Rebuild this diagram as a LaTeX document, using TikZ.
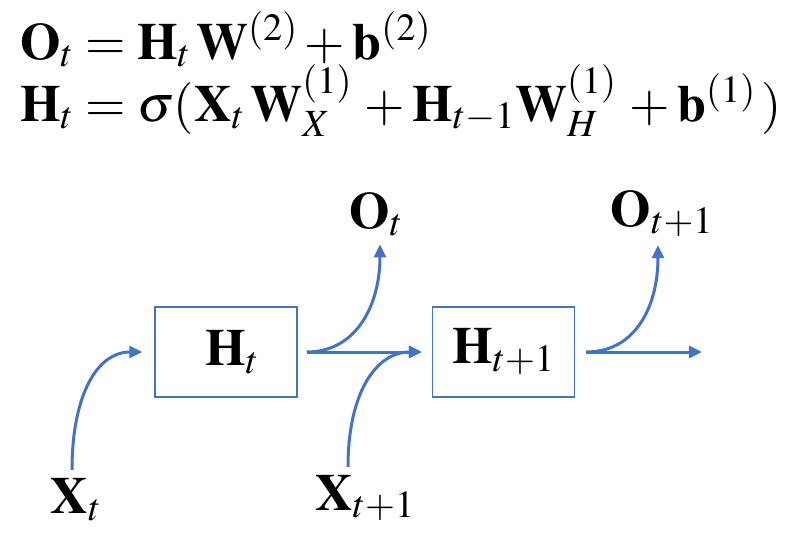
\documentclass[tikz,border=0pt]{standalone}
\usepackage{mathptmx}
\usetikzlibrary{arrows.meta,calc}
\definecolor{flowblue}{RGB}{68,114,196}

\begin{document}
\begin{tikzpicture}[
  x=1pt, y=-1pt,
  font=\fontsize{52}{60}\selectfont,
  eq/.style={anchor=base west, inner sep=0pt},
  cell/.style={draw=flowblue, line width=1.5pt, minimum width=142pt,
               minimum height=90pt, inner sep=0pt},
  lbl/.style={anchor=base, inner sep=8pt},
  flow/.style={draw=flowblue, line width=3pt,
               -{Triangle[length=13pt,width=12pt]}},
]
\useasboundingbox (0,0) rectangle (789,538);
% equations
\node[eq] (eqo) at (20,59)
 {$\mathbf{O}_t = \mathbf{H}_t\,\mathbf{W}^{(2)} + \mathbf{b}^{(2)}$};
\node[eq] (eqh) at (20,121)
 {$\mathbf{H}_t = \sigma(\mathbf{X}_t\,\mathbf{W}_X^{(1)}\, + \mathbf{H}_{t-1}\mathbf{W}_H^{(1)}\, + \mathbf{b}^{(1)}\,)$};
% cells and labels
\node[cell] (ht) at (226,352) {\hspace*{12pt}$\mathbf{H}_t$};
\node[cell] (htn) at (503.5,352) {$\mathbf{H}_{t+1}$};
\node[lbl] (ot) at (376,228) {$\mathbf{O}_t$};
\node[lbl] (otn) at (662,226) {$\mathbf{O}_{t+1}$};
\node[lbl] (xt) at (76,513) {$\mathbf{X}_t$};
\node[lbl] (xtn) at (365,510) {$\mathbf{X}_{t+1}$};
\coordinate (hout) at (702,352);
% connectors
\draw[flow] ($(xt.north)+(-4,0)$) .. controls +(0,-75) and +(-45,0) .. ([xshift=-12pt]ht.west);
\draw[flow] ([xshift=9pt]ht.east) -- ([xshift=-10pt]htn.west);
\draw[flow] ([xshift=9pt]ht.east) .. controls +(50,0) and +(0,60) .. ($(ot.south)+(4,0)$);
\draw[flow] ($(xtn.north)+(-17,0)$) .. controls +(0,-75) and +(-45,0) .. ([xshift=-10pt]htn.west);
\draw[flow] ([xshift=11pt]htn.east) -- (hout);
\draw[flow] ([xshift=11pt]htn.east) .. controls +(50,0) and +(0,60) .. ($(otn.south)+(-4,0)$);
\end{tikzpicture}
\end{document}
